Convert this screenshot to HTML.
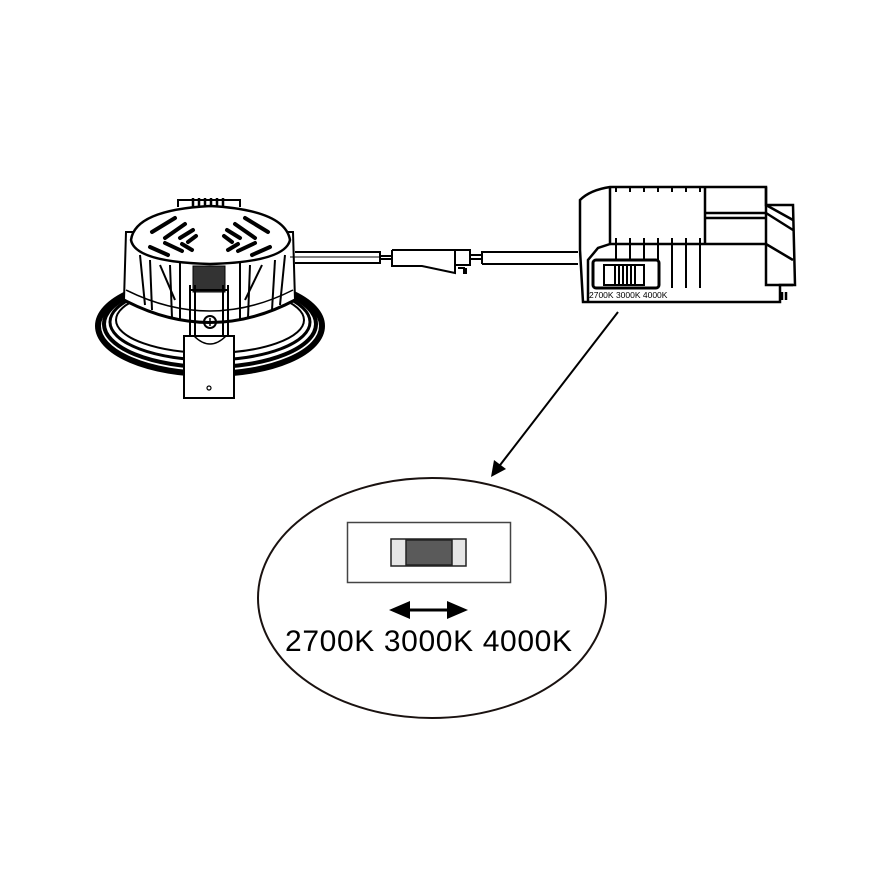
<!DOCTYPE html>
<html><head><meta charset="utf-8"><style>
html,body{margin:0;padding:0;background:#fff;width:872px;height:873px;overflow:hidden}
svg{display:block}
</style></head><body>
<svg width="872" height="873" viewBox="0 0 872 873" xmlns="http://www.w3.org/2000/svg" fill="none" stroke="#000">
<g stroke="#000">
<ellipse cx="210" cy="326" rx="112" ry="48" stroke-width="6"/>
<ellipse cx="210" cy="324" rx="106" ry="43" stroke-width="4"/>
<ellipse cx="210" cy="322" rx="100" ry="38" stroke-width="3"/>
<ellipse cx="210" cy="320" rx="94" ry="33" stroke-width="2"/>
</g>
<path d="M126 232 L124 300 Q210 345 295 300 L293 232 Z" fill="#fff" stroke-width="2"/>
<path d="M124 300 Q210 345 295 300" stroke-width="3"/>
<path d="M126 290 Q210 332 293 290" stroke-width="1.5"/>
<g stroke-width="2">
<line x1="140" y1="255" x2="145" y2="305"/><line x1="150" y1="260" x2="152" y2="310"/>
<line x1="160" y1="265" x2="175" y2="300"/><line x1="170" y1="265" x2="172" y2="318"/>
<line x1="250" y1="265" x2="248" y2="318"/><line x1="262" y1="265" x2="245" y2="300"/>
<line x1="275" y1="260" x2="272" y2="310"/><line x1="285" y1="255" x2="280" y2="305"/>
<line x1="240" y1="262" x2="240" y2="320"/><line x1="180" y1="262" x2="180" y2="320"/>
</g>
<path d="M178 207 L178 200 L240 200 L240 207" stroke-width="2"/>
<g stroke-width="2.5"><path d="M193 208 v-10 M199 208 v-10 M205 208 v-10 M211 208 v-10 M217 208 v-10 M223 208 v-10"/></g>
<path d="M131 240 Q135 210 210 206 Q285 210 290 240 Q285 262 210 264 Q135 262 131 240 Z" fill="#fff" stroke-width="2.5"/>
<g stroke-width="4" stroke-linecap="round">
<path d="M152 232 L175 218"/><path d="M165 238 L185 224"/><path d="M180 238 L193 230"/><path d="M188 242 L196 236"/>
<path d="M150 247 L168 255"/><path d="M165 243 L182 251"/><path d="M182 244 L192 250"/>
<path d="M268 232 L245 218"/><path d="M255 238 L235 224"/><path d="M240 238 L227 230"/><path d="M232 242 L224 236"/>
<path d="M270 247 L252 255"/><path d="M255 243 L238 251"/><path d="M238 244 L228 250"/>
</g>
<rect x="193" y="266" width="32" height="26" fill="#333" stroke-width="1"/>
<path d="M190 285 L190 335 M228 285 L228 335 M195 285 L195 335 M223 285 L223 335" stroke-width="2"/>
<path d="M190 290 h38" stroke-width="2"/>
<circle cx="210" cy="322" r="6" stroke-width="2"/>
<path d="M206 322h8M210 318v8" stroke-width="1.5"/>
<rect x="184" y="336" width="50" height="62" fill="#fff" stroke-width="2"/>
<path d="M194 336 Q210 352 226 336" stroke-width="1.5"/>
<circle cx="209" cy="388" r="2" stroke-width="1.2"/>
<g stroke-width="2">
<line x1="295" y1="252" x2="380" y2="252"/><line x1="295" y1="263" x2="380" y2="263"/>
<line x1="290" y1="257" x2="380" y2="257" stroke-width="1"/>
<line x1="380" y1="251" x2="380" y2="264"/>
<line x1="380" y1="256" x2="392" y2="256"/><line x1="380" y1="259" x2="392" y2="259"/>
<path d="M392 250 L455 250 L455 265 L470 265 L470 250 L455 250 M392 250 L392 266 L422 266 L455 273 L455 265"/>
<path d="M458 268 h6 v6 M466 268 v6"/>
<line x1="470" y1="255" x2="482" y2="255"/><line x1="470" y1="259" x2="482" y2="259"/>
<line x1="482" y1="251" x2="482" y2="264"/>
<line x1="482" y1="252" x2="578" y2="252"/><line x1="482" y1="264" x2="578" y2="264"/>
</g>
<g stroke-width="2.5">
<path d="M610 187 L766 187 L766 205 L793 205 L795 285 L780 285 L780 302 L755 302 L755 302 L590 302 L583 302 L580 250 L580 200 Q590 190 610 187 Z" fill="#fff"/>
<path d="M610 187 L610 244 L598 248 L588 260 L588 302"/>
<path d="M610 244 L766 244"/>
<path d="M705 187 L705 244 M705 213 L766 213 M705 218 L766 218 M766 187 L766 285 L793 285"/>
<path d="M766 205 L793 220 M766 213 L793 230 M766 244 L793 260"/>
<path d="M782 292 v8 M786 292 v8"/>
</g>
<g stroke-width="2">
<path d="M616 187v5 M630 187v5 M644 187v5 M658 187v5 M672 187v5 M686 187v5 M700 187v5"/>
<path d="M616 238v46 M630 238v46 M644 238v46 M658 238v46 M672 238v50 M686 238v50 M700 238v50"/>
</g>
<rect x="593" y="260" width="66" height="28" rx="3" fill="#fff" stroke-width="3"/>
<rect x="604" y="265" width="40" height="20" fill="#fff" stroke-width="2"/>
<g stroke-width="2"><path d="M615 265v20 M619 265v20 M623 265v20 M627 265v20 M631 265v20 M635 265v20"/></g>
<text x="589" y="298" font-family="Liberation Sans, sans-serif" font-size="8.5" fill="#000" stroke="none">2700K 3000K 4000K</text>
<line x1="618" y1="312" x2="497" y2="469" stroke-width="2"/>
<polygon points="491,477 494,460 506,469" fill="#000" stroke="none"/>
<ellipse cx="432" cy="598" rx="174" ry="120" stroke="#1a1210" stroke-width="2"/>
<rect x="347.5" y="522.5" width="163" height="60" stroke="#444" stroke-width="1.5"/>
<rect x="391" y="539" width="75" height="27" fill="#e6e6e6" stroke="#222" stroke-width="1.5"/>
<rect x="406" y="540" width="46" height="25" fill="#5a5a5a" stroke="#222" stroke-width="1.5"/>
<line x1="400" y1="610" x2="456" y2="610" stroke-width="3"/>
<polygon points="389,610 410,601 410,619" fill="#000" stroke="none"/>
<polygon points="468,610 447,601 447,619" fill="#000" stroke="none"/>
<text x="285" y="651" font-family="Liberation Sans, sans-serif" font-size="30" fill="#000" stroke="none" textLength="287">2700K 3000K 4000K</text>
</svg>
</body></html>
